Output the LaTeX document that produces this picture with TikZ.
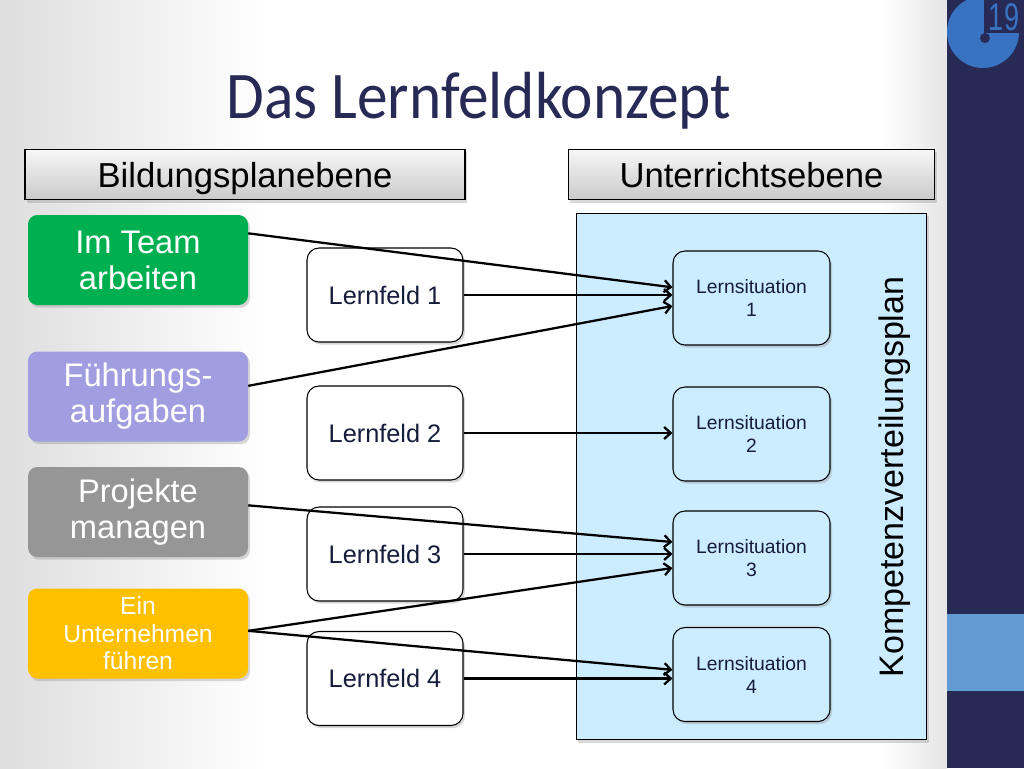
\documentclass[tikz,border=0pt]{standalone}
\usepackage{fontspec}
\setmainfont{Liberation Sans}
\newfontfamily\titlefont{Carlito}
\usetikzlibrary{arrows.meta}
\usetikzlibrary{shadows}

\definecolor{navy}{RGB}{40,42,86}
\definecolor{logoblue}{RGB}{56,114,192}
\definecolor{barblue}{RGB}{97,155,210}
\definecolor{teamgreen}{RGB}{0,176,80}
\definecolor{lavender}{RGB}{160,158,224}
\definecolor{projgray}{RGB}{150,150,150}
\definecolor{gold}{RGB}{255,192,0}
\definecolor{planblue}{RGB}{204,236,255}
\definecolor{textnavy}{RGB}{22,28,60}

\begin{document}
\begin{tikzpicture}[x=0.75pt,y=-0.75pt,
        schatten/.style={drop shadow={opacity=0.3,shadow xshift=1.5pt,shadow yshift=-2pt}},
        ebene/.style={draw=black,thick,top color=gray!6,bottom color=gray!42,minimum width=#1,
            minimum height=38pt,text depth=0pt,font=\fontsize{26}{30}\selectfont,schatten},
        kompetenz/.style={rounded corners=7pt,fill=#1,text=white,minimum width=165pt,
            minimum height=67.5pt,align=center,font=\fontsize{24.5}{27}\selectfont,schatten},
        lernfeld/.style={draw=black,thick,rounded corners=9pt,fill=white,minimum width=117pt,
            minimum height=70.5pt,text=textnavy,font=\fontsize{19}{22}\selectfont,schatten},
        situation/.style={draw=black,thick,rounded corners=9pt,fill=planblue,minimum width=117.75pt,
            minimum height=70.5pt,text=textnavy,align=center,font=\fontsize{14.5}{17.25}\selectfont,schatten},
        pfeil/.style={-{Straight Barb[length=5pt,width=9pt]},line width=1.7pt}
    ]
        % hintergrund
        \useasboundingbox (0,0) rectangle (1024,768);
        \fill[white] (0,0) rectangle (1024,768);
        \shade[left color=black!13,right color=white] (0,0) rectangle (270,768);
        \shade[left color=white,right color=black!10] (880,0) rectangle (947,768);
        \fill[navy] (947,0) rectangle (1024,768);
        \fill[barblue] (947,614) rectangle (1024,691);

        % logo
        \begin{scope}
            \clip (947,0) rectangle (1024,768);
            \fill[logoblue] (983,32) circle (36);
        \end{scope}
        \fill[navy] (984,0) rectangle (1024,33);
        \fill[navy] (985,38) circle (5);
        \node[text=logoblue,font=\fontsize{29}{29}\selectfont] (neunzehn) at (1004,17) {\scalebox{0.7}[1]{19}};

        % titel
        \node[anchor=base,text=navy,font=\titlefont\fontsize{50}{56}\selectfont] (titel) at (479,118)
            {\scalebox{0.92}[1]{Das Lernfeldkonzept}};

        \node[ebene=330pt] (bildung) at (245,174.5) {Bildungsplanebene};
        \node[ebene=275pt] (unterricht) at (751.5,174.5) {Unterrichtsebene};

        \node[draw=black,thick,fill=planblue,minimum width=263pt,minimum height=395pt,schatten] (plan) at (751.5,476.5) {};
        \node[rotate=90,font=\fontsize{25.5}{28}\selectfont] (kvp) at (895,477) {Kompetenzverteilungsplan};

        % kompetenzen
        \node[kompetenz=teamgreen] (team) at (138,260) {Im Team\\arbeiten};
        \node[kompetenz=lavender] (fuehrung) at (138,396.5) {Führungs-\\aufgaben};
        \node[kompetenz=projgray] (projekt) at (138,512) {Projekte\\managen};
        \node[kompetenz=gold,font=\fontsize{18.5}{20.6}\selectfont] (unternehmen) at (138,633.5) {Ein\\Unternehmen\\führen};

        % lernfelder
        \node[lernfeld] (lf1) at (385,295) {Lernfeld 1};
        \node[lernfeld] (lf2) at (385,433) {Lernfeld 2};
        \node[lernfeld] (lf3) at (385,554) {Lernfeld 3};
        \node[lernfeld] (lf4) at (385,678.5) {Lernfeld 4};

        % lernsituationen
        \node[situation] (ls1) at (751.5,298) {Lernsituation\\1};
        \node[situation] (ls2) at (751.5,434) {Lernsituation\\2};
        \node[situation] (ls3) at (751.5,558) {Lernsituation\\3};
        \node[situation] (ls4) at (751.5,674.5) {Lernsituation\\4};

        % pfeile
        \draw[pfeil] ([yshift=20pt]team.east) -- ([yshift=8pt]ls1.west);
        \draw[pfeil] (lf1.east) -- (ls1.west |- lf1.east);
        \draw[pfeil] ([yshift=8pt]fuehrung.east) -- ([yshift=-6pt]ls1.west);
        \draw[pfeil] (lf2.east) -- (ls2.west |- lf2.east);
        \draw[pfeil] ([yshift=5pt]projekt.east) -- ([yshift=12pt]ls3.west);
        \draw[pfeil] (lf3.east) -- (ls3.west |- lf3.east);
        \draw[pfeil] ([yshift=2pt]unternehmen.east) -- ([yshift=-7.5pt]ls3.west);
        \draw[pfeil] ([yshift=2pt]unternehmen.east) -- ([yshift=3.5pt]ls4.west);
        \draw[pfeil] (lf4.east) -- (ls4.west |- lf4.east);
    \end{tikzpicture}
\end{document}
